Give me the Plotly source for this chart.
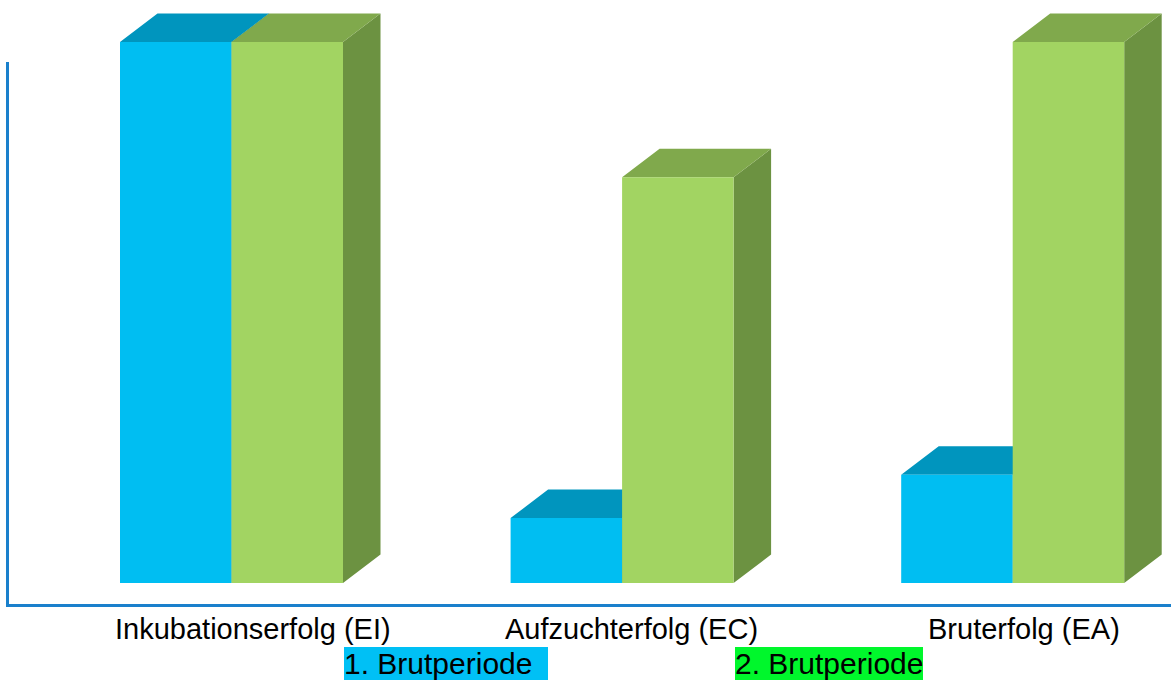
import plotly.graph_objects as go

# ---- data ----
categories = ["Inkubationserfolg (EI)", "Aufzuchterfolg (EC)", "Bruterfolg (EA)"]
series_names = ["1. Brutperiode", "2. Brutperiode"]
brut1 = [1.0, 0.12, 0.20]
brut2 = [1.0, 0.75, 1.0]

# ---- layout geometry (pixels) ----
W_PX, H_PX = 1171, 680
L_M, R_M, T_M, B_M = 6, 0, 0, 76
PLOT_W = W_PX - L_M - R_M
PLOT_H = H_PX - T_M - B_M
GROUP0_PX = 231.5      # centre of first group
GROUP_STEP_PX = 390.6  # distance between groups
BASE_PX = 583          # pixel row of value 0
UNIT_PX = 541          # pixels per 1.0
BAR_W = 111.5 / GROUP_STEP_PX
DX = 37.5 / GROUP_STEP_PX
DY = 28.5 / UNIT_PX

x_range = [(L_M - GROUP0_PX) / GROUP_STEP_PX, (W_PX - R_M - GROUP0_PX) / GROUP_STEP_PX]
y_range = [-(T_M + PLOT_H - BASE_PX) / UNIT_PX, (BASE_PX - T_M) / UNIT_PX]

front_cols = ["#00BEF2", "#A2D462"]
top_cols = ["#0095BE", "#80A94C"]
side_cols = ["#007FA3", "#6C9241"]
legend_bg = ["#00C0F5", "#00F72C"]


def faces(values, s):
    fx, fy, tx, ty, sx, sy = [], [], [], [], [], []
    for i, v in enumerate(values):
        xl = i + (s - 1) * BAR_W
        xr = xl + BAR_W
        fx += [xl, xr, xr, xl, xl, None]
        fy += [0, 0, v, v, 0, None]
        tx += [xl, xr, xr + DX, xl + DX, xl, None]
        ty += [v, v, v + DY, v + DY, v, None]
        sx += [xr, xr + DX, xr + DX, xr, xr, None]
        sy += [0, DY, v + DY, v, 0, None]
    return (fx, fy), (tx, ty), (sx, sy)


fig = go.Figure()
for s, vals in enumerate([brut1, brut2]):
    front, top, side = faces(vals, s)
    for (xs, ys), col in [(side, side_cols[s]), (top, top_cols[s]), (front, front_cols[s])]:
        fig.add_trace(go.Scatter(
            x=xs, y=ys, mode="lines", fill="toself", fillcolor=col,
            line=dict(width=0, color=col), hoverinfo="skip",
            showlegend=False, name=series_names[s]))

FONT = "Liberation Sans, Arial, sans-serif"
LABEL_SHIFT_PX = [21.5, 9, 11]
annotations = []
for i, c in enumerate(categories):
    annotations.append(dict(
        x=i + LABEL_SHIFT_PX[i] / GROUP_STEP_PX, y=(PLOT_H - 629) / PLOT_H,
        xref="x", yref="paper", text=c, showarrow=False,
        xanchor="center", yanchor="middle",
        font=dict(family=FONT, size=29, color="black")))

LEG_X_PX = [344, 735]
LEG_W_PX = [204, 188]
for s, name in enumerate(series_names):
    annotations.append(dict(
        x=(LEG_X_PX[s] - L_M) / PLOT_W, y=(PLOT_H - 646.5) / PLOT_H,
        xref="paper", yref="paper", text=name, showarrow=False,
        xanchor="left", yanchor="top", align="left",
        width=LEG_W_PX[s], height=33, borderpad=0, borderwidth=0,
        bgcolor=legend_bg[s], valign="middle",
        font=dict(family=FONT, size=30, color="black")))

fig.update_layout(
    width=W_PX, height=H_PX,
    margin=dict(l=L_M, r=R_M, t=T_M, b=B_M, pad=0),
    paper_bgcolor="white", plot_bgcolor="white",
    xaxis=dict(range=x_range, showgrid=False, zeroline=False, showticklabels=False,
               showline=True, linecolor="#1A80CC", linewidth=3, ticks="", fixedrange=True),
    yaxis=dict(range=y_range, showgrid=False, zeroline=False, showticklabels=False,
               showline=False, ticks="", fixedrange=True),
    annotations=annotations,
    shapes=[dict(type="line", xref="paper", yref="paper",
                 x0=1.5 / PLOT_W, x1=1.5 / PLOT_W,
                 y0=-3 / PLOT_H, y1=(PLOT_H - 62) / PLOT_H,
                 line=dict(color="#1A80CC", width=3), layer="above")],
    showlegend=False,
)

fig.write_html("out.html")
